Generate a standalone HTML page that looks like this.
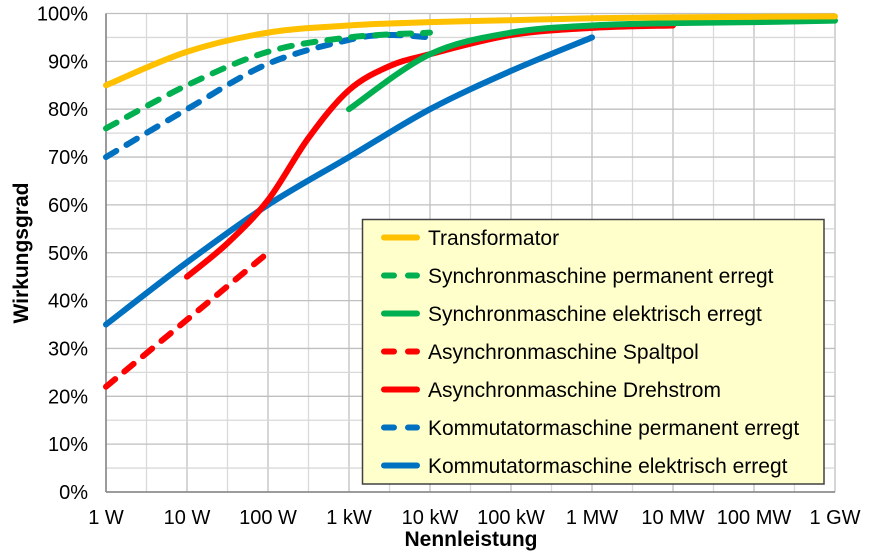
<!DOCTYPE html>
<html><head><meta charset="utf-8"><style>
body{margin:0;background:#fff;font-family:"Liberation Sans",Arial,sans-serif}
svg text{font-family:"Liberation Sans",Arial,sans-serif}
</style></head><body>
<svg id="c" width="870" height="552" xmlns="http://www.w3.org/2000/svg"></svg>
<script>
const xTickLabels=["1 W","10 W","100 W","1 kW","10 kW","100 kW","1 MW","10 MW","100 MW","1 GW"];
const yTickLabels=["0%","10%","20%","30%","40%","50%","60%","70%","80%","90%","100%"];
const seriesNames=["Transformator","Synchronmaschine permanent erregt","Synchronmaschine elektrisch erregt","Asynchronmaschine Spaltpol","Asynchronmaschine Drehstrom","Kommutatormaschine permanent erregt","Kommutatormaschine elektrisch erregt"];
const seriesColors=["#FFC000","#00B050","#00B050","#FF0000","#FF0000","#0070C0","#0070C0"];
const seriesDashed=[false,true,false,true,false,true,false];
// x = log10(power in W)
const transX=[0,1,2,3,4,5,6,7,8,9];const transY=[85,92,96,97.5,98.2,98.6,99,99.2,99.3,99.4];
const syncPX=[0,1,2,3,4];const syncPY=[76,85,92,95,96];
const syncEX=[3,4,5,6,7,8,9];const syncEY=[80,91.5,96,97.5,98,98.2,98.5];
const spaltX=[0,1,2];const spaltY=[22,36,50];
const drehX=[1,1.5,2,2.5,3,3.5,4,5,6,7];const drehY=[45,52,61,74,84,89,91.5,95.5,97,97.5];
const kommPX=[0,1,2,3,3.5,4];const kommPY=[70,80,89.5,94.5,95.5,95];
const kommEX=[0,1,2,3,4,5,6];const kommEY=[35,48,60,70,80,88,95];
const allX=[transX,syncPX,syncEX,spaltX,drehX,kommPX,kommEX];
const allY=[transY,syncPY,syncEY,spaltY,drehY,kommPY,kommEY];

const L=106,R=835,T=13.5,B=492;
const sx=v=>L+v*(R-L)/9, sy=v=>B-v*(B-T)/100;
const svg=document.getElementById('c');const NS="http://www.w3.org/2000/svg";
function mk(t,a,p){const e=document.createElementNS(NS,t);for(const k in a)e.setAttribute(k,a[k]);(p||svg).appendChild(e);return e;}
const grid=mk('g',{});


for(let i=0;i<=18;i++){const x=sx(i/2);mk('line',{x1:x,x2:x,y1:T,y2:B,stroke:i%2?'#d9d9d9':'#bfbfbf','stroke-width':1.3},grid);}
for(let i=0;i<=20;i++){const y=sy(i*5);mk('line',{x1:L,x2:R,y1:y,y2:y,stroke:i%2?'#d9d9d9':'#bfbfbf','stroke-width':1.3},grid);}
mk('line',{x1:L,x2:L,y1:T,y2:B,stroke:'#808080','stroke-width':1.5});
mk('line',{x1:L,x2:R,y1:B,y2:B,stroke:'#808080','stroke-width':1.5});
yTickLabels.forEach((s,i)=>{const t=mk('text',{x:88,y:sy(i*10)+7,'text-anchor':'end','font-size':20,fill:'#000'});t.textContent=s;

});
xTickLabels.forEach((s,i)=>{const t=mk('text',{x:sx(i),y:524,'text-anchor':'middle','font-size':20,fill:'#000'});t.textContent=s;

});
let t=mk('text',{x:471,y:546,'text-anchor':'middle','font-size':21,'font-weight':'bold'});t.textContent="Nennleistung";


t=mk('text',{transform:'translate(28,253) rotate(-90)','text-anchor':'middle','font-size':21,'font-weight':'bold'});t.textContent="Wirkungsgrad";


function path(xs,ys){const p=xs.map((x,i)=>[sx(x),sy(ys[i])]);let d=`M${p[0][0]},${p[0][1]}`;
for(let i=0;i<p.length-1;i++){const p0=p[i-1]||p[i],p1=p[i],p2=p[i+1],p3=p[i+2]||p2;
d+=`C${p1[0]+(p2[0]-p0[0])/6},${p1[1]+(p2[1]-p0[1])/6} ${p2[0]-(p3[0]-p1[0])/6},${p2[1]-(p3[1]-p1[1])/6} ${p2[0]},${p2[1]}`;}return d;}
const order=[6,5,3,4,2,1,0];
order.forEach(k=>{const e=mk('path',{d:path(allX[k],allY[k]),fill:'none',stroke:seriesColors[k],'stroke-width':6,'stroke-linecap':'round','stroke-dasharray':seriesDashed[k]?'12 12':'none'});

});
const lg=mk('g',{});


mk('rect',{x:362.5,y:219.5,width:461.5,height:264.5,fill:'#FFFFCC',stroke:'#404040','stroke-width':1.5},lg);
seriesNames.forEach((n,i)=>{const y=237.5+i*38;
mk('line',{x1:384,x2:417,y1:y,y2:y,stroke:seriesColors[i],'stroke-width':6,'stroke-linecap':'round','stroke-dasharray':seriesDashed[i]?'10 14':'none'},lg);
const tt=mk('text',{x:428,y:y+7.5,'font-size':21,fill:'#000'},lg);tt.textContent=n;

});
</script>
</body></html>
